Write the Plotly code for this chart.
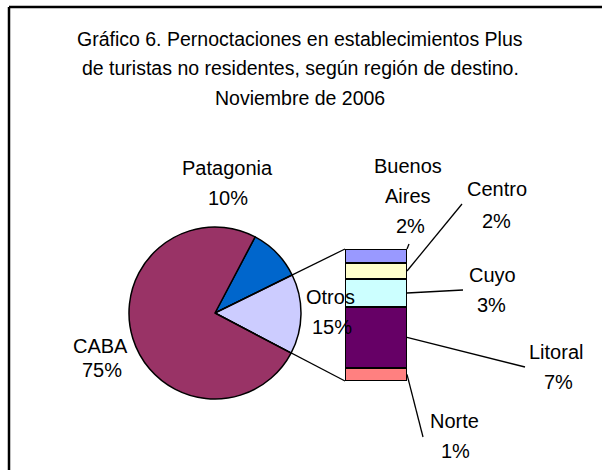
import plotly.graph_objects as go

W, H = 602, 470

# ---- data ----
pie_labels = ["Patagonia", "Otros", "CABA"]
pie_values = [10, 15, 75]
pie_pct_text = ["10%", "15%", "75%"]
pie_colors = ["#0066CC", "#CCCCFF", "#993366"]

bar_labels = ["Norte", "Litoral", "Cuyo", "Centro", "Buenos Aires"]  # bottom to top
bar_values = [1.5, 6.9, 3.2, 1.8, 1.6]
bar_pct_text = ["1%", "7%", "3%", "2%", "2%"]
bar_colors = ["#FF8080", "#660066", "#CCFFFF", "#FFFFCC", "#9999FF"]

title_lines = ["Gráfico 6. Pernoctaciones en establecimientos Plus",
               "de turistas no residentes, según región de destino.",
               "Noviembre de 2006"]

FONT = "Liberation Sans, Arial, sans-serif"


def px(x):
    return x / W


def py(y):
    return 1 - y / H


# layout geometry (pixels)
pie_cx, pie_cy, pie_r = 215, 313, 86
bar_x0, bar_x1, bar_y0, bar_y1 = 345, 407, 249, 381

fig = go.Figure()
fig.add_trace(go.Pie(
    labels=pie_labels, values=pie_values, sort=False, direction="clockwise",
    rotation=27.8, textinfo="none", hoverinfo="label+percent",
    marker=dict(colors=pie_colors, line=dict(color="black", width=1.5)),
    domain=dict(x=[px(pie_cx - pie_r), px(pie_cx + pie_r)],
                y=[py(pie_cy + pie_r), py(pie_cy - pie_r)]),
    showlegend=False))

for lab, val, col in zip(bar_labels, bar_values, bar_colors):
    fig.add_trace(go.Bar(
        x=[0], y=[val], name=lab, width=1,
        marker=dict(color=col, line=dict(color="black", width=2)),
        xaxis="x", yaxis="y", showlegend=False, hoverinfo="name"))

total = sum(bar_values)
fig.update_layout(
    width=W, height=H, margin=dict(l=0, r=0, t=0, b=0),
    paper_bgcolor="white", plot_bgcolor="rgba(0,0,0,0)",
    barmode="stack", bargap=0,
    xaxis=dict(domain=[px(bar_x0), px(bar_x1)], range=[-0.5, 0.5], visible=False, fixedrange=True),
    yaxis=dict(domain=[py(bar_y1), py(bar_y0)], range=[0, total], visible=False, fixedrange=True),
)

shapes = []
# frame (only top and left visible)
shapes.append(dict(type="line", xref="paper", yref="paper", x0=px(9), y0=py(7), x1=px(9), y1=0,
                   line=dict(color="black", width=2.5)))
shapes.append(dict(type="line", xref="paper", yref="paper", x0=px(9), y0=py(7), x1=1, y1=py(7),
                   line=dict(color="black", width=2.5)))
# connectors pie centre -> bar corners
for yc in (bar_y0, bar_y1):
    shapes.append(dict(type="line", xref="paper", yref="paper",
                       x0=px(pie_cx), y0=py(pie_cy), x1=px(bar_x0), y1=py(yc),
                       line=dict(color="black", width=1.3)))

cum = 0
seg_mid = {}
for lab, val in zip(bar_labels, bar_values):
    seg_mid[lab] = cum + val / 2
    cum += val


def bar_y_px(v):
    return bar_y1 - (bar_y1 - bar_y0) * v / total


leader_end = {"Norte": (423, 437), "Litoral": (525, 367), "Cuyo": (463, 290),
              "Centro": (462, 204), "Buenos Aires": (409, 244)}
for lab in bar_labels:
    ys = bar_y_px(seg_mid[lab]) if lab != "Buenos Aires" else bar_y0
    ex, ey = leader_end[lab]
    shapes.append(dict(type="line", xref="paper", yref="paper",
                       x0=px(bar_x1), y0=py(ys), x1=px(ex), y1=py(ey),
                       line=dict(color="black", width=1.3)))
fig.update_layout(shapes=shapes)

ann = []


def text(x, y, s, size=20):
    ann.append(dict(x=px(x), y=py(y), xref="paper", yref="paper", text=s, showarrow=False,
                    xanchor="center", yanchor="middle",
                    font=dict(family=FONT, size=size, color="black")))


for i, line in enumerate(title_lines):
    text(300, 39 + i * 29.3, line, 19.5)

# pie labels
text(227, 168, pie_labels[0]); text(228, 198, pie_pct_text[0])
text(330, 297, pie_labels[1]); text(332, 327, pie_pct_text[1])
text(100, 346, pie_labels[2]); text(102, 370, pie_pct_text[2])
# bar labels
text(408, 166, "Buenos"); text(408, 196, "Aires"); text(410, 226, bar_pct_text[4])
text(497, 189, bar_labels[3]); text(496, 221, bar_pct_text[3])
text(492, 275, bar_labels[2]); text(491, 305, bar_pct_text[2])
text(556, 352, bar_labels[1]); text(558, 382, bar_pct_text[1])
text(454, 421, bar_labels[0]); text(455, 451, bar_pct_text[0])

fig.update_layout(annotations=ann)
fig.write_html("out.html", config={"displayModeBar": False},
               post_script="document.body.style.margin='0';")
